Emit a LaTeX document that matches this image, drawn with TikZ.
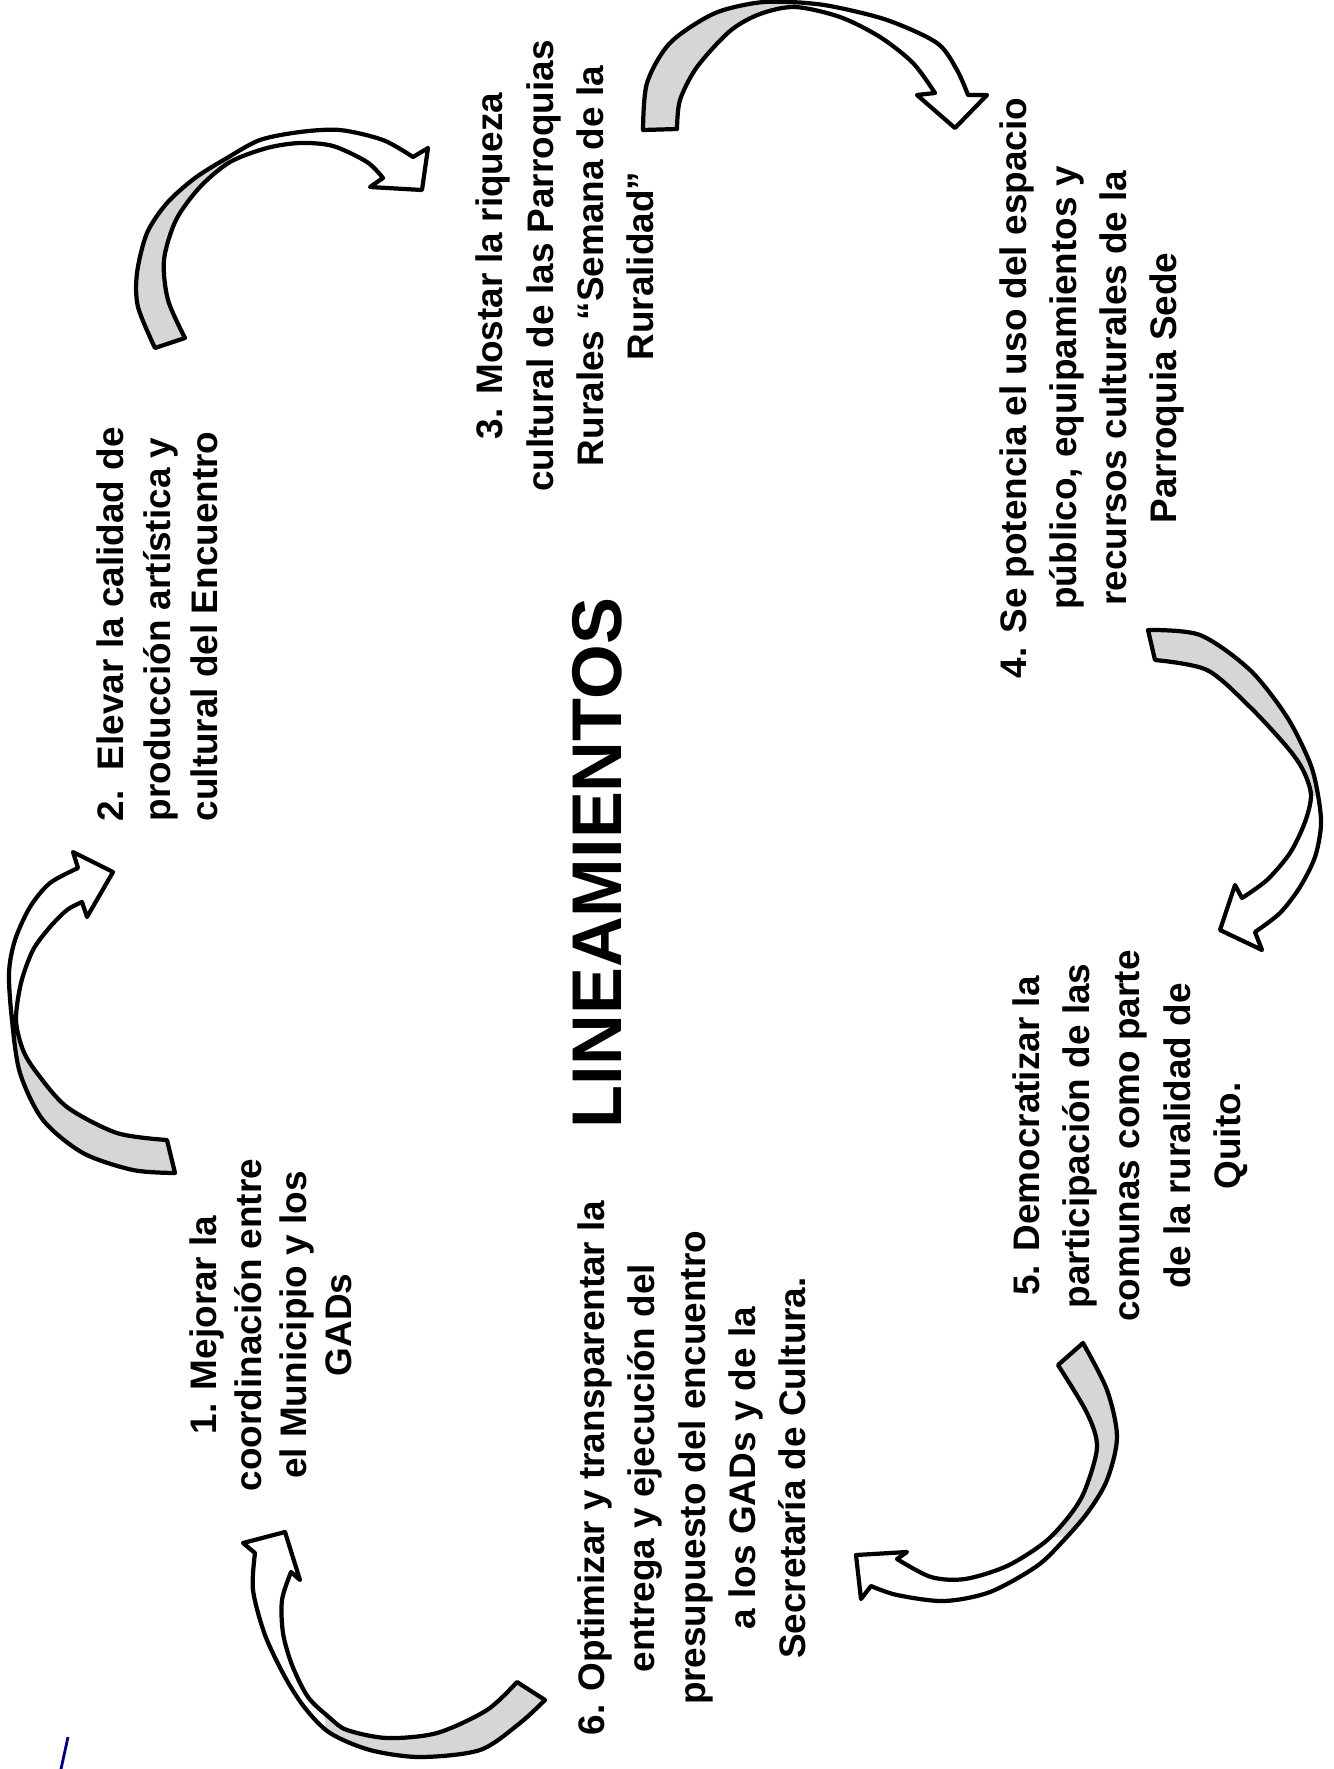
\documentclass[tikz,border=0pt]{standalone}
\usepackage{fontspec}
\setmainfont{Liberation Sans}

\begin{document}
\begin{tikzpicture}
		[x=0.01cm, y=-0.01cm,
		every node/.style={rotate=90, inner sep=0pt, font=\bfseries\fontsize{10.5}{14.3}\selectfont},
		item/.style={align=center},
		title/.style={font=\bfseries\fontsize{20}{24}\selectfont},
		ribbon/.style={draw=black, line width=1.2pt, line join=round},
		backside/.style={fill=black!16},
		frontside/.style={fill=white}
		]
		\useasboundingbox (0,0) rectangle (1334,1769);
		\begin{scope}
			\node[title] (T) at (597, 863) {LINEAMIENTOS};
			\node[item, font=\bfseries\fontsize{10.5}{12.8}\selectfont] (L1) at (271, 1325) {1. Mejorar la\\coordinación entre\\el Municipio y los\\GADs};
			\node[align=left, anchor=west, font=\bfseries\fontsize{10.5}{13.4}\selectfont] (L2) at (157, 822) {2.\ \ Elevar la calidad de\\producción artística y\\cultural del Encuentro};
			\node[item] (L3) at (565, 266) {3. Mostar la riqueza\\cultural de las Parroquias\\Rurales “Semana de la\\Ruralidad”};
			\node[item] (L4) at (1092, 388) {4. Se potencia el uso del espacio\\público, equipamientos y\\recursos culturales de la\\Parroquia Sede};
			\node[item] (L5) at (1130, 1136) {5. Democratizar la\\participación de las\\comunas como parte\\de la ruralidad de\\Quito.};
			\node[item] (L6) at (692, 1468) {6. Optimizar y transparentar la\\entrega y ejecución del\\presupuesto del encuentro\\a los GADs y de la\\Secretaría de Cultura.};
		\end{scope}
		% twisted block arrows: white front, grey back up to the twist
		% 1 -> 2
		\path[save path=\arrA] plot[smooth] coordinates {(175,1173) (133,1170) (83,1153) (43,1120) (20,1073) (12,1020) (9,973) (15,940) (30,907) (50,883) (78,868)}
			-- (73,852) -- (113,872) -- (87,917) -- (82,902)
			-- plot[smooth] coordinates {(82,902) (67,910) (50,927) (33,950) (21,983) (16,1020) (23,1050) (37,1073) (67,1107) (117,1133) (167,1140)} -- cycle;
		% 2 -> 3
		\path[save path=\arrB] plot[smooth] coordinates {(155,348) (138,307) (137,273) (147,233) (167,203) (195,178) (227,158) (260,140) (300,132) (340,130) (383,140) (413,157)}
			-- (428,148) -- (422,190) -- (370,187) -- (383,178)
			-- plot[smooth] coordinates {(383,178) (367,162) (333,146) (300,143) (267,148) (230,162) (200,187) (176,220) (164,260) (168,300) (185,338)} -- cycle;
		% 3 -> 4
		\path[save path=\arrC] plot[smooth] coordinates {(643,130) (647,83) (670,43) (713,14) (755,3) (790,2) (830,6) (887,20) (937,43) (957,70) (968,95)}
			-- (987,95) -- (955,128) -- (917,95) -- (935,93)
			-- plot[smooth] coordinates {(935,93) (913,63) (880,37) (840,17) (795,7) (760,14) (730,31) (697,67) (680,100) (677,129)} -- cycle;
		% 4 -> 5
		\path[save path=\arrD] plot[smooth] coordinates {(1148,630) (1200,635) (1250,670) (1287,717) (1310,763) (1318,795) (1321,825) (1315,857) (1300,887) (1280,913) (1255,932)}
			-- (1262,950) -- (1220,930) -- (1235,885) -- (1242,898)
			-- plot[smooth] coordinates {(1242,898) (1267,880) (1290,853) (1305,822) (1311,795) (1303,770) (1287,747) (1250,707) (1207,670) (1155,660)} -- cycle;
		% 5 -> 6
		\path[save path=\arrE] plot[smooth] coordinates {(1083,1343) (1107,1390) (1117,1437) (1107,1480) (1088,1512) (1064,1540) (1037,1566) (990,1592) (944,1601) (897,1595) (871,1586)}
			-- (861,1599) -- (856,1555) -- (907,1552) -- (897,1559)
			-- plot[smooth] coordinates {(897,1559) (931,1577) (965,1579) (1007,1566) (1045,1542) (1070,1515) (1085,1490) (1097,1447) (1087,1413) (1058,1365)} -- cycle;
		% 6 -> 1
		\path[save path=\arrF] plot[smooth] coordinates {(545,1700) (520,1723) (480,1750) (420,1757) (370,1750) (330,1733) (305,1708) (285,1677) (265,1635) (253,1590) (255,1553)}
			-- (243,1543) -- (285,1532) -- (300,1580) -- (291,1572)
			-- plot[smooth] coordinates {(291,1572) (282,1600) (283,1633) (292,1665) (308,1697) (330,1718) (347,1730) (387,1738) (437,1733) (487,1710) (517,1682)} -- cycle;
		\foreach \a/\x/\y/\u/\v in {\arrA/0/1020/200/1200, \arrB/100/100/228/400, \arrC/600/0/790/200,
				\arrD/1100/600/1334/795, \arrE/1000/1330/1150/1536, \arrF/325/1600/600/1769}
		{
			\fill[frontside, use path=\a];
			\begin{scope}
				\clip (\x,\y) rectangle (\u,\v);
				\fill[backside, use path=\a];
			\end{scope}
			\draw[ribbon, use path=\a];
		}
		% pen mark
		\draw[blue!50!black, line width=0.8pt] (68,1737) -- (61,1769);
	\end{tikzpicture}
\end{document}
